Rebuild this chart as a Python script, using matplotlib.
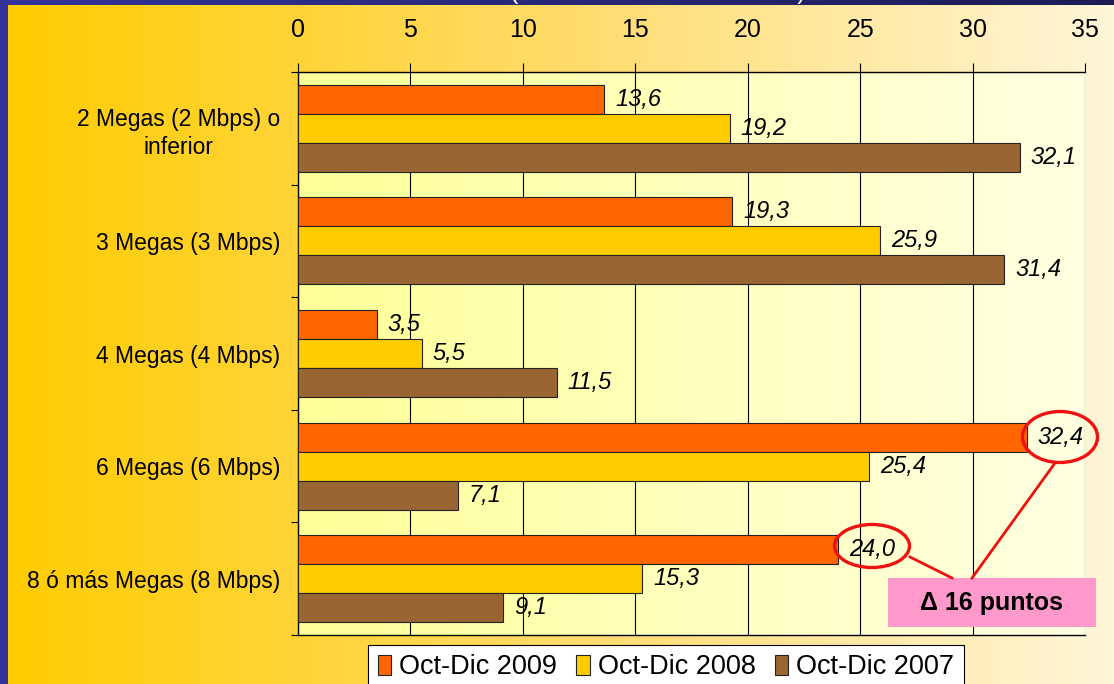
import numpy as np
import matplotlib
matplotlib.use("Agg")
import matplotlib.pyplot as plt
from matplotlib.patches import Ellipse, Rectangle
from matplotlib.colors import LinearSegmentedColormap

plt.rcParams['font.family'] = ['Liberation Sans', 'DejaVu Sans']

categories = ["2 Megas (2 Mbps) o\ninferior", "3 Megas (3 Mbps)", "4 Megas (4 Mbps)",
              "6 Megas (6 Mbps)", "8 ó más Megas (8 Mbps)"]
series_names = ["Oct-Dic 2009", "Oct-Dic 2008", "Oct-Dic 2007"]
v2009 = [13.6, 19.3, 3.5, 32.4, 24.0]
v2008 = [19.2, 25.9, 5.5, 25.4, 15.3]
v2007 = [32.1, 31.4, 11.5, 7.1, 9.1]
colors = ["#FF6600", "#FFCC00", "#996633"]
xticks = [0, 5, 10, 15, 20, 25, 30, 35]
annot_text = "Δ 16 puntos"

W, H = 1114, 684
fig = plt.figure(figsize=(W / 100, H / 100), dpi=100)

# background axes in pixel coordinates
bg = fig.add_axes([0, 0, 1, 1], zorder=-10)
bg.set_xlim(0, W); bg.set_ylim(H, 0); bg.axis('off')
grad = np.linspace(0, 1, 256).reshape(1, -1)
cm_bg = LinearSegmentedColormap.from_list('bg', ["#FFCC00", "#FFDB6A", "#FFF6D8"])
bg.imshow(grad, cmap=cm_bg, extent=[8, W, H, 5], aspect='auto')
cm_blue = LinearSegmentedColormap.from_list('bl', ["#333399", "#1C1C55"])
bg.imshow(grad, cmap=cm_blue, extent=[0, W, 5, 0], aspect='auto')
bg.add_patch(Rectangle((0, 0), 8, H, color="#333399", lw=0))
bg.text(658, -1, "(% sobre total de accesos)", color='white', fontsize=18,
        ha='center', va='baseline', clip_on=True)

# main axes
ax = fig.add_axes([298 / W, 1 - 635 / H, (1085 - 298) / W, (635 - 72) / H])
ax.set_xlim(0, 35)
ax.set_ylim(len(categories) - 0.5, -0.5)
cm_pa = LinearSegmentedColormap.from_list('pa', ["#FFFF99", "#FFFFE2"])
ax.imshow(grad, cmap=cm_pa, extent=[0, 35, len(categories) - 0.5, -0.5],
          aspect='auto', zorder=0)
ax.set_aspect('auto')

y = np.arange(len(categories))
h = 0.2575
for k, (vals, col, name) in enumerate(zip([v2009, v2008, v2007], colors, series_names)):
    pos = y + (k - 1) * h
    ax.barh(pos, vals, height=h, color=col, edgecolor='#222222', linewidth=0.8,
            label=name, zorder=3)
    for p, v in zip(pos, vals):
        ax.annotate(f"{v:.1f}".replace('.', ','), (v, p), xytext=(8, 0),
                    textcoords='offset points', ha='left', va='center',
                    fontsize=17, style='italic', zorder=5)

ax.xaxis.tick_top()
ax.set_xticks(xticks)
ax.set_xticklabels([str(t) for t in xticks], fontsize=18)
ax.tick_params(axis='x', length=6.5, width=0.8, pad=15, color='black')
ax.grid(axis='x', color='black', linewidth=0.8, zorder=1)
ax.set_axisbelow(True)

ax.set_yticks(y)
ax.set_yticklabels(categories, fontsize=16.5, multialignment='center', linespacing=1.3)
ax.set_yticks(np.arange(len(categories) + 1) - 0.5, minor=True)
ax.tick_params(axis='y', which='major', length=0, pad=13)
ax.tick_params(axis='y', which='minor', length=5, width=0.8)

for s in ['left', 'top', 'bottom']:
    ax.spines[s].set_color('black'); ax.spines[s].set_linewidth(1.0)
ax.spines['right'].set_visible(False)

leg = fig.legend(loc='upper center', bbox_to_anchor=(666 / W, 1 - 645 / H),
                 ncol=3, fontsize=19.5, frameon=True, fancybox=False,
                 edgecolor='black', facecolor='white', framealpha=1,
                 handlelength=0.5, handleheight=0.8, handletextpad=0.3,
                 columnspacing=0.7, borderpad=0.35, borderaxespad=0)
leg.get_frame().set_linewidth(0.8)

# annotation overlay in pixel coordinates
ov = fig.add_axes([0, 0, 1, 1], zorder=10)
ov.set_xlim(0, W); ov.set_ylim(H, 0); ov.axis('off')
red = "#EE1111"
ov.add_patch(Ellipse((1060, 437), 75, 51, fill=False, edgecolor=red, lw=2.4))
ov.add_patch(Ellipse((872, 546), 75, 43, fill=False, edgecolor=red, lw=2.4))
ov.plot([1055, 972], [463, 578], color=red, lw=2)
ov.plot([910, 952], [557, 578], color=red, lw=2)
ov.add_patch(Rectangle((888, 578), 208, 49, facecolor="#FF99CC", edgecolor='none'))
ov.text(992, 603, annot_text, fontsize=18, fontweight='bold', ha='center', va='center')

fig.savefig("out.png", dpi=100)
